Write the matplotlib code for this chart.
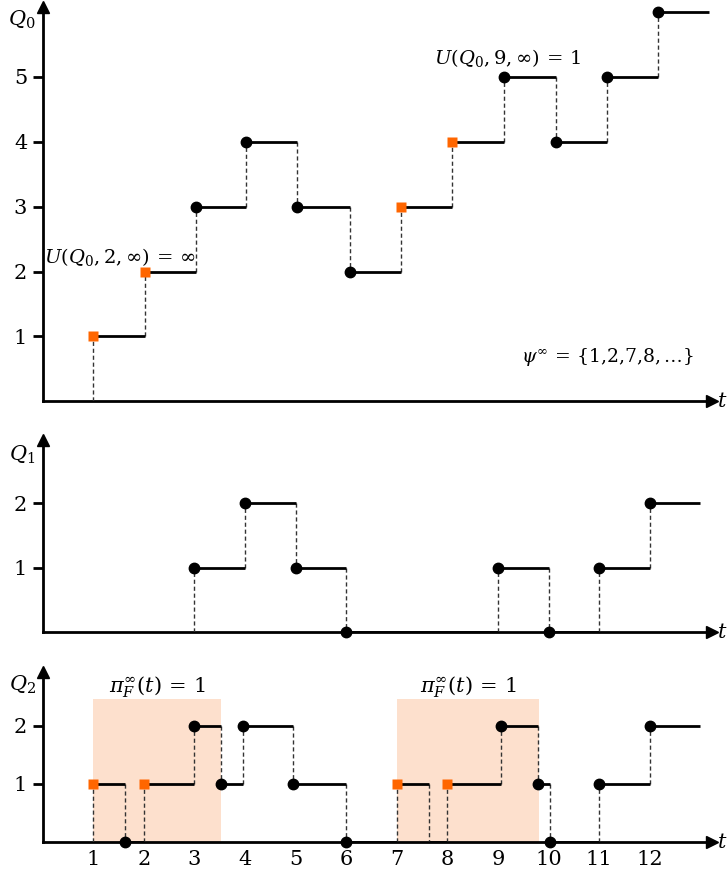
import matplotlib.pyplot as plt

plt.rcParams['font.family'] = 'DejaVu Serif'
plt.rcParams['mathtext.fontset'] = 'dejavuserif'

# jump times, levels after each jump and the marker kind at each jump
q0_t = [1.0, 2.03, 3.03, 4.03, 5.03, 6.07, 7.08, 8.1, 9.12, 10.14, 11.15, 12.17]
q0_v = [1, 2, 3, 4, 3, 2, 3, 4, 5, 4, 5, 6]
q0_m = ['s', 's', 'o', 'o', 'o', 'o', 's', 's', 'o', 'o', 'o', 'o']
q0_end = 13.17

q1_t = [3, 4, 5, 6, 9, 10, 11, 12]
q1_v = [1, 2, 1, 0, 1, 0, 1, 2]
q1_m = ['o'] * 8
q1_end = 13.0

q2_t = [1, 1.63, 2, 3, 3.53, 3.96, 4.95, 6.0, 7, 7.63, 8, 9.05, 9.8, 10.02, 11, 12]
q2_v = [1, 0, 1, 2, 1, 2, 1, 0, 1, 0, 1, 2, 1, 0, 1, 2]
q2_m = ['s', 'o', 's', 'o', 'o', 'o', 'o', 'o', 's', '', 's', 'o', 'o', 'o', 'o', 'o']
q2_end = 13.0

# intervals where pi_F(t) = 1
shade_spans = [(1, 3.52), (7, 9.82)]
shade_top = 2.47

x_ticks = list(range(1, 13))

ORANGE = '#ff6600'
SHADE = '#fde0cd'

fig = plt.figure(figsize=(7.28, 8.73), dpi=100)
ax0 = fig.add_axes([0.0584, 0.5401, 0.9197, 0.4519])
ax1 = fig.add_axes([0.0584, 0.2761, 0.9197, 0.2199])
ax2 = fig.add_axes([0.0584, 0.0355, 0.9197, 0.1947])


def draw_steps(ax, ts, vs, ms, t_end):
    prev = 0
    for i, (t, v, m) in enumerate(zip(ts, vs, ms)):
        nxt = ts[i + 1] if i + 1 < len(ts) else t_end
        # dashed jump, then the flat stretch
        ax.plot([t, t], [prev, v], color='#333333', lw=1, dashes=(3, 2), zorder=3)
        ax.plot([t, nxt], [v, v], color='black', lw=2, zorder=4, solid_capstyle='butt')
        if m == 's':
            ax.plot(t, v, 's', color=ORANGE, ms=7.5, mec='none', zorder=6, clip_on=False)
        elif m == 'o':
            ax.plot(t, v, 'o', color='black', ms=7.5, zorder=6, clip_on=False)
        prev = v


def style_axis(ax, ymax, yticks):
    ax.set_xlim(0, 13.23)
    ax.set_ylim(0, ymax)
    for s in ['top', 'right']:
        ax.spines[s].set_visible(False)
    for s in ['left', 'bottom']:
        ax.spines[s].set_linewidth(2)
    ax.plot(1, 0, '>k', ms=8, transform=ax.transAxes, clip_on=False, zorder=7)
    ax.plot(0, 1, '^k', ms=8, transform=ax.transAxes, clip_on=False, zorder=7)
    ax.set_yticks(yticks)
    ax.tick_params(axis='y', direction='out', length=7, width=2, labelsize=15, pad=4)
    ax.set_xticks([])


draw_steps(ax0, q0_t, q0_v, q0_m, q0_end)
style_axis(ax0, 6.07, [1, 2, 3, 4, 5])
ax0.text(1.53, 2.22, r'$U(Q_0,2,\infty)\,=\,\infty$', ha='center', va='center', fontsize=14)
ax0.text(9.18, 5.28, r'$U(Q_0,9,\infty)\,=\,1$', ha='center', va='center', fontsize=14)
ax0.text(11.16, 0.68, r'$\psi^\infty\,=\,\{1{,}2{,}7{,}8,\ldots\}$', ha='center', va='center', fontsize=13.5)

draw_steps(ax1, q1_t, q1_v, q1_m, q1_end)
style_axis(ax1, 2.98, [1, 2])

for a, b in shade_spans:
    ax2.fill_between([a, b], 0, shade_top, color=SHADE, lw=0, zorder=1)
    ax2.text((a + b) / 2, 2.67, r'$\pi_F^\infty(t)\,=\,1$', ha='center', va='center', fontsize=15)
draw_steps(ax2, q2_t, q2_v, q2_m, q2_end)
style_axis(ax2, 2.93, [1, 2])
ax2.set_xticks(x_ticks)
ax2.tick_params(axis='x', length=0, labelsize=15, pad=6)

# axis names
for y_px, name in [(20, '$Q_0$'), (455, '$Q_1$'), (685, '$Q_2$')]:
    fig.text(22 / 728, 1 - y_px / 873, name, ha='center', va='center', fontsize=15)
for y_px in [402, 632, 842]:
    fig.text(722 / 728, 1 - y_px / 873, '$t$', ha='center', va='center', fontsize=15)

fig.savefig('out.png', dpi=100)
